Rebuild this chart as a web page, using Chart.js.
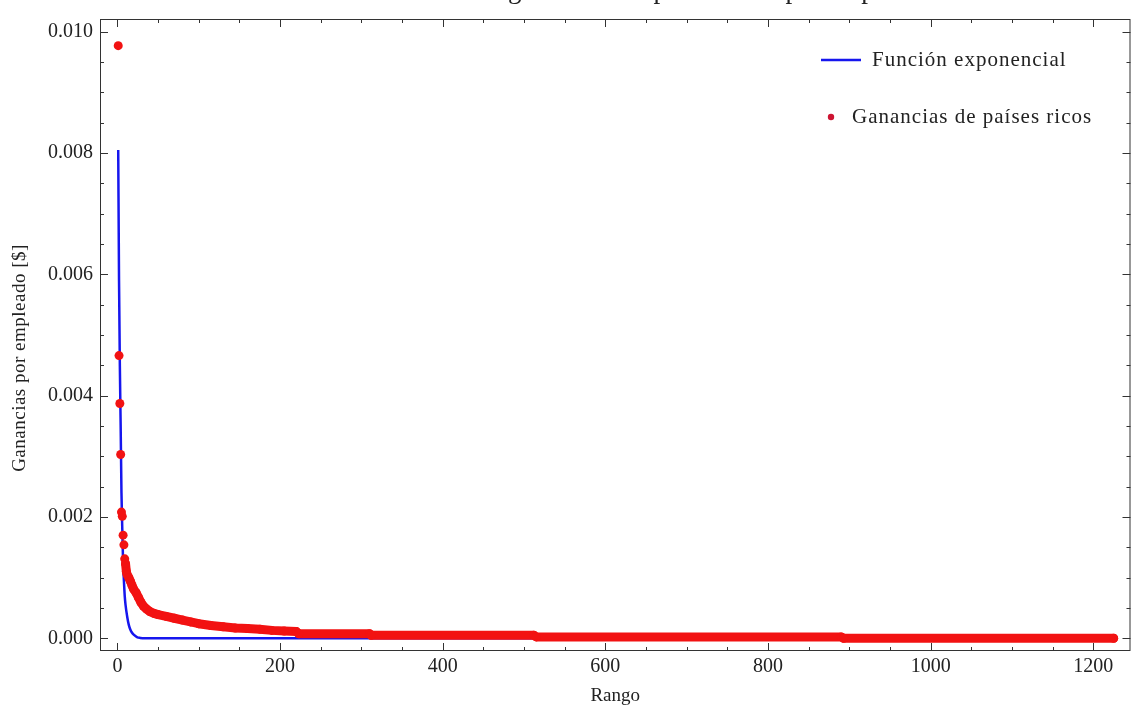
<!DOCTYPE html>
<html>
<head>
<meta charset="utf-8">
<title>Ganancias por empleado</title>
<script src="https://cdn.jsdelivr.net/npm/chart.js@4.4.1/dist/chart.umd.min.js"></script>
<style>
  html, body { margin: 0; padding: 0; background: #fff; }
  #wrap { width: 1135px; height: 713px; }
</style>
</head>
<body>
<div id="wrap"><canvas id="myCanvas"></canvas></div>
<script>
'use strict';

// rank of the country and its earnings per employee
let richRanks = [1, 2, 3, 4, 5, 6, 7, 8, 9, 10, 11, 12, 14, 16, 18, 20, 23, 26, 29, 32, 36, 40,
  45, 50, 60, 70, 80, 90, 100, 115, 130, 145, 160, 175, 190, 205, 220,
  223, 310, 312, 512, 515, 890, 893, 1225];
let richValues = [0.00977, 0.00466, 0.00387, 0.00303, 0.00208, 0.00201, 0.00170, 0.00154, 0.00131, 0.00123, 0.00110, 0.00105,
  0.00100, 0.00094, 0.00087, 0.00081, 0.00075, 0.00067, 0.00059, 0.00053, 0.00048, 0.00044,
  0.00041, 0.00039, 0.00036, 0.00033, 0.00030, 0.00027, 0.00024, 0.00021, 0.00019, 0.00017, 0.00016, 0.00015, 0.00013, 0.00012, 0.00011,
  0.000075, 0.000075, 0.00005, 0.00005, 0.000022, 0.000022, 0.000001, 0.000001];

// exponential fit
let fitRanks = [1, 2, 3, 4, 5, 6, 7, 8, 9, 10, 12, 14, 16, 18, 20, 24, 28, 35, 1225];
let fitValues = [0.00805, 0.00590, 0.00450, 0.00350, 0.00240, 0.00180, 0.00125, 0.00095, 0.00070, 0.00055,
  0.00036, 0.00022, 0.00014, 0.00009, 0.00006, 0.00002, 0.000006, 0.000001, 0];

// from this rank on the points sit so close they form one band
let bandStart = 10;

let xTicks = [0, 200, 400, 600, 800, 1000, 1200];
let yTicks = [0, 0.002, 0.004, 0.006, 0.008, 0.010];

const RED = 'rgb(242, 18, 18)';
const BLUE = 'rgb(22, 22, 238)';
const INK = '#222';
const SERIF = '"Liberation Serif", "Times New Roman", serif';

function toPoints(xs, ys) {
  let pts = [];
  for (let i = 0; i < xs.length; i++) {
    pts.push({ x: xs[i], y: ys[i] });
  }
  return pts;
}

// frame with inward ticks on all four sides, legend and titles
const framePlugin = {
  id: 'frame',
  afterDatasetsDraw(chart) {
    const ctx = chart.ctx;
    const a = chart.chartArea;
    const xs = chart.scales.x;
    const ys = chart.scales.y;
    ctx.save();
    ctx.strokeStyle = '#333';
    ctx.lineWidth = 1;
    ctx.strokeRect(a.left + 0.5, a.top + 0.5, a.right - a.left - 1, a.bottom - a.top - 1);

    ctx.beginPath();
    // x ticks, every 50 with a long one every 200
    for (let v = 0; v <= xs.max; v += 50) {
      let px = Math.round(xs.getPixelForValue(v)) + 0.5;
      let len = (v % 200 === 0) ? 8 : 4;
      ctx.moveTo(px, a.bottom); ctx.lineTo(px, a.bottom - len);
      ctx.moveTo(px, a.top); ctx.lineTo(px, a.top + len);
    }
    // y ticks, every 0.0005 with a long one every 0.002
    for (let k = 0; k * 0.0005 <= ys.max; k++) {
      let py = Math.round(ys.getPixelForValue(k * 0.0005)) + 0.5;
      let len = (k % 4 === 0) ? 8 : 4;
      ctx.moveTo(a.left, py); ctx.lineTo(a.left + len, py);
      ctx.moveTo(a.right, py); ctx.lineTo(a.right - len, py);
    }
    ctx.stroke();

    // legend
    ctx.letterSpacing = '1px';
    ctx.font = '21px ' + SERIF;
    ctx.fillStyle = INK;
    ctx.textBaseline = 'middle';
    ctx.textAlign = 'left';
    ctx.strokeStyle = BLUE;
    ctx.lineWidth = 2.5;
    ctx.beginPath();
    ctx.moveTo(821, 60); ctx.lineTo(861, 60);
    ctx.stroke();
    ctx.fillText(chart.data.datasets[1].label, 872, 60);
    ctx.fillStyle = 'rgb(205, 20, 50)';
    ctx.beginPath();
    ctx.arc(831, 117, 3.2, 0, Math.PI * 2);
    ctx.fill();
    ctx.fillStyle = INK;
    ctx.fillText(chart.data.datasets[0].label, 852, 117);

    // y axis title
    ctx.letterSpacing = '0.5px';
    ctx.font = '19px ' + SERIF;
    ctx.textAlign = 'center';
    ctx.translate(20, 358);
    ctx.rotate(-Math.PI / 2);
    ctx.fillText('Ganancias por empleado [$]', 0, 0);
    ctx.restore();

    // title, mostly above the top edge
    ctx.save();
    ctx.font = '27px ' + SERIF;
    ctx.fillStyle = INK;
    ctx.textAlign = 'center';
    ctx.textBaseline = 'alphabetic';
    ctx.fillText('Distribución de las ganancias de países ricos por empleado', (a.left + a.right) / 2, -2);
    ctx.restore();
  }
};

const data = {
  datasets: [{
    label: 'Ganancias de países ricos',
    data: toPoints(richRanks, richValues),
    showLine: true,
    borderColor: RED,
    borderWidth: 9,
    borderCapStyle: 'round',
    borderJoinStyle: 'round',
    segment: {
      borderColor: c => c.p0.parsed.x < bandStart ? 'rgba(0,0,0,0)' : RED
    },
    pointRadius: 4.5,
    pointBorderWidth: 0,
    pointBackgroundColor: RED,
    order: 0
  }, {
    label: 'Función exponencial',
    data: toPoints(fitRanks, fitValues),
    showLine: true,
    borderColor: BLUE,
    borderWidth: 2.5,
    cubicInterpolationMode: 'monotone',
    pointRadius: 0,
    order: 1
  }]
};

const tickFont = { family: SERIF, size: 20 };

const config = {
  type: 'scatter',
  data: data,
  options: {
    responsive: true,
    maintainAspectRatio: false,
    animation: false,
    layout: { padding: { top: 7, right: 1, left: 0, bottom: 0 } },
    plugins: {
      legend: { display: false },
      tooltip: { enabled: false }
    },
    scales: {
      x: {
        type: 'linear',
        min: -21.4,
        max: 1245.7,
        grid: { display: false, drawTicks: false },
        border: { display: false },
        afterBuildTicks: s => { s.ticks = xTicks.map(v => ({ value: v })); },
        ticks: {
          padding: 4,
          color: INK,
          font: tickFont,
          maxRotation: 0,
          callback: v => String(v)
        },
        title: {
          display: true,
          text: 'Rango',
          color: INK,
          font: { family: SERIF, size: 19 },
          padding: { top: 0, bottom: 6 }
        },
        afterFit: s => { s.height = 62; }
      },
      y: {
        type: 'linear',
        min: -0.00021,
        max: 0.01021,
        grid: { display: false, drawTicks: false },
        border: { display: false },
        afterBuildTicks: s => { s.ticks = yTicks.map(v => ({ value: v })); },
        ticks: {
          padding: 7,
          color: INK,
          font: tickFont,
          callback: v => v.toFixed(3)
        },
        afterFit: s => { s.width = 100; }
      }
    }
  },
  plugins: [framePlugin]
};

const chart = document.getElementById('myCanvas');
const myChart = new Chart(chart, config);
</script>
</body>
</html>
